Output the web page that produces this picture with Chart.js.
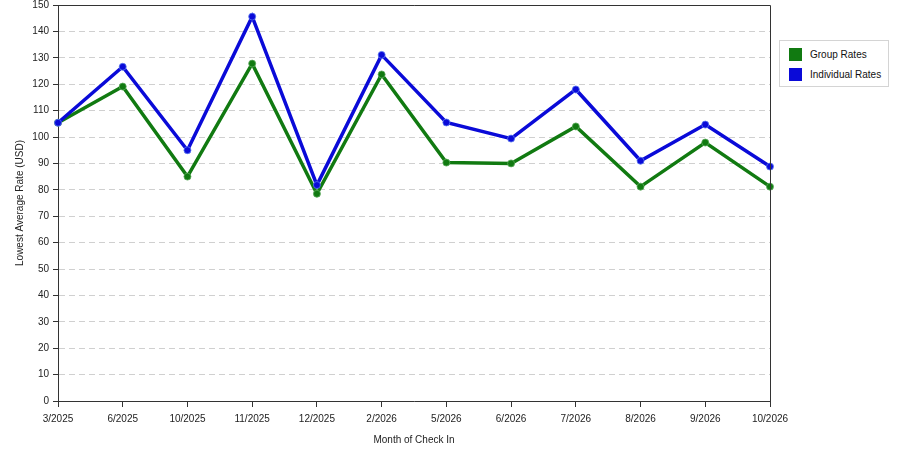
<!DOCTYPE html>
<html>
<head>
<meta charset="utf-8">
<script src="https://cdn.jsdelivr.net/npm/chart.js@4/dist/chart.umd.min.js"></script>
<style>
  html, body { margin: 0; padding: 0; background: #fff; }
  #wrap { position: relative; width: 900px; height: 450px; }
  #legend {
    position: absolute; left: 779px; top: 40px; width: 108px; height: 45px;
    border: 1px solid #d4d4d4; background: #fff;
    font: 10px "Liberation Sans", Arial, sans-serif; color: #111;
  }
  #legend .row { position: absolute; left: 9px; height: 13px; line-height: 13px; white-space: nowrap; }
  #legend .sw { display: inline-block; width: 13px; height: 13px; vertical-align: top; margin-right: 8px; }
</style>
</head>
<body>
<div id="wrap">
  <canvas id="c" width="900" height="450"></canvas>
  <div id="legend"></div>
</div>
<script>
// ── Data ──
var months = ['3/2025', '6/2025', '10/2025', '11/2025', '12/2025', '2/2026',
              '5/2026', '6/2026', '7/2026', '8/2026', '9/2026', '10/2026'];
var groupRates = [105.4, 119.1, 85.0, 127.8, 78.5, 123.7, 90.3, 90.0, 104.0, 81.2, 97.9, 81.2];
var individualRates = [105.4, 126.6, 95.0, 145.6, 81.8, 131.1, 105.5, 99.4, 118.0, 91.0, 104.7, 88.8];
var seriesNames = ['Group Rates', 'Individual Rates'];
var seriesColors = ['#117a11', '#0a0ad8'];
var haloColors = ['rgba(90,170,90,0.8)', 'rgba(90,120,240,0.8)'];

var FONT = '"Liberation Sans", Arial, sans-serif';

// draws the top and right edges of the plot box
var boxPlugin = {
  id: 'box',
  afterDraw: function(chart) {
    var a = chart.chartArea, ctx = chart.ctx;
    ctx.save();
    ctx.strokeStyle = '#333';
    ctx.lineWidth = 1;
    ctx.beginPath();
    ctx.moveTo(a.left, a.top + 0.5);
    ctx.lineTo(a.right + 0.5, a.top + 0.5);
    ctx.lineTo(a.right + 0.5, a.bottom);
    ctx.stroke();
    ctx.restore();
  }
};

function makeSet(i, values) {
  return {
    label: seriesNames[i],
    data: values,
    borderColor: seriesColors[i],
    backgroundColor: seriesColors[i],
    borderWidth: 3.5,
    pointRadius: 3.5,
    pointBorderWidth: 1,
    pointBorderColor: haloColors[i],
    pointBackgroundColor: seriesColors[i],
    tension: 0
  };
}

var chart = new Chart(document.getElementById('c'), {
  type: 'line',
  data: {
    labels: months,
    datasets: [makeSet(1, individualRates), makeSet(0, groupRates)]
  },
  plugins: [boxPlugin],
  options: {
    responsive: false,
    animation: false,
    layout: { padding: { left: 0, right: 130, top: 5, bottom: 0 } },
    plugins: { legend: { display: false }, tooltip: { enabled: false } },
    scales: {
      x: {
        offset: false,
        grid: { drawOnChartArea: false, drawTicks: true, tickLength: 6, tickColor: '#333' },
        border: { color: '#333' },
        ticks: { color: '#222', font: { family: FONT, size: 10 }, padding: 6, maxRotation: 0, autoSkip: false },
        title: { display: true, text: 'Month of Check In', color: '#222',
                 font: { family: FONT, size: 10 }, padding: { top: 2 } },
        afterFit: function(s) { s.height = 49; }
      },
      y: {
        min: 0, max: 150,
        grid: { color: '#d0d0d0', drawTicks: true, tickLength: 5,
                tickColor: '#333', tickBorderDash: [] },
        border: { color: '#333', dash: [6, 4] },
        ticks: { stepSize: 10, color: '#222', font: { family: FONT, size: 10 }, padding: 4 },
        title: { display: true, text: 'Lowest Average Rate (USD)', color: '#222',
                 font: { family: FONT, size: 10 }, padding: { top: 14, bottom: 6 } },
        afterFit: function(s) { s.width = 58; s.paddingTop = 0; }
      }
    }
  }
});

// ── Legend ──
var legend = document.getElementById('legend');
seriesNames.forEach(function(name, i) {
  var row = document.createElement('div');
  row.className = 'row';
  row.style.top = (7 + i * 20) + 'px';
  row.innerHTML = '<span class="sw" style="background:' + seriesColors[i] + '"></span>' + name;
  legend.appendChild(row);
});
</script>
</body>
</html>
